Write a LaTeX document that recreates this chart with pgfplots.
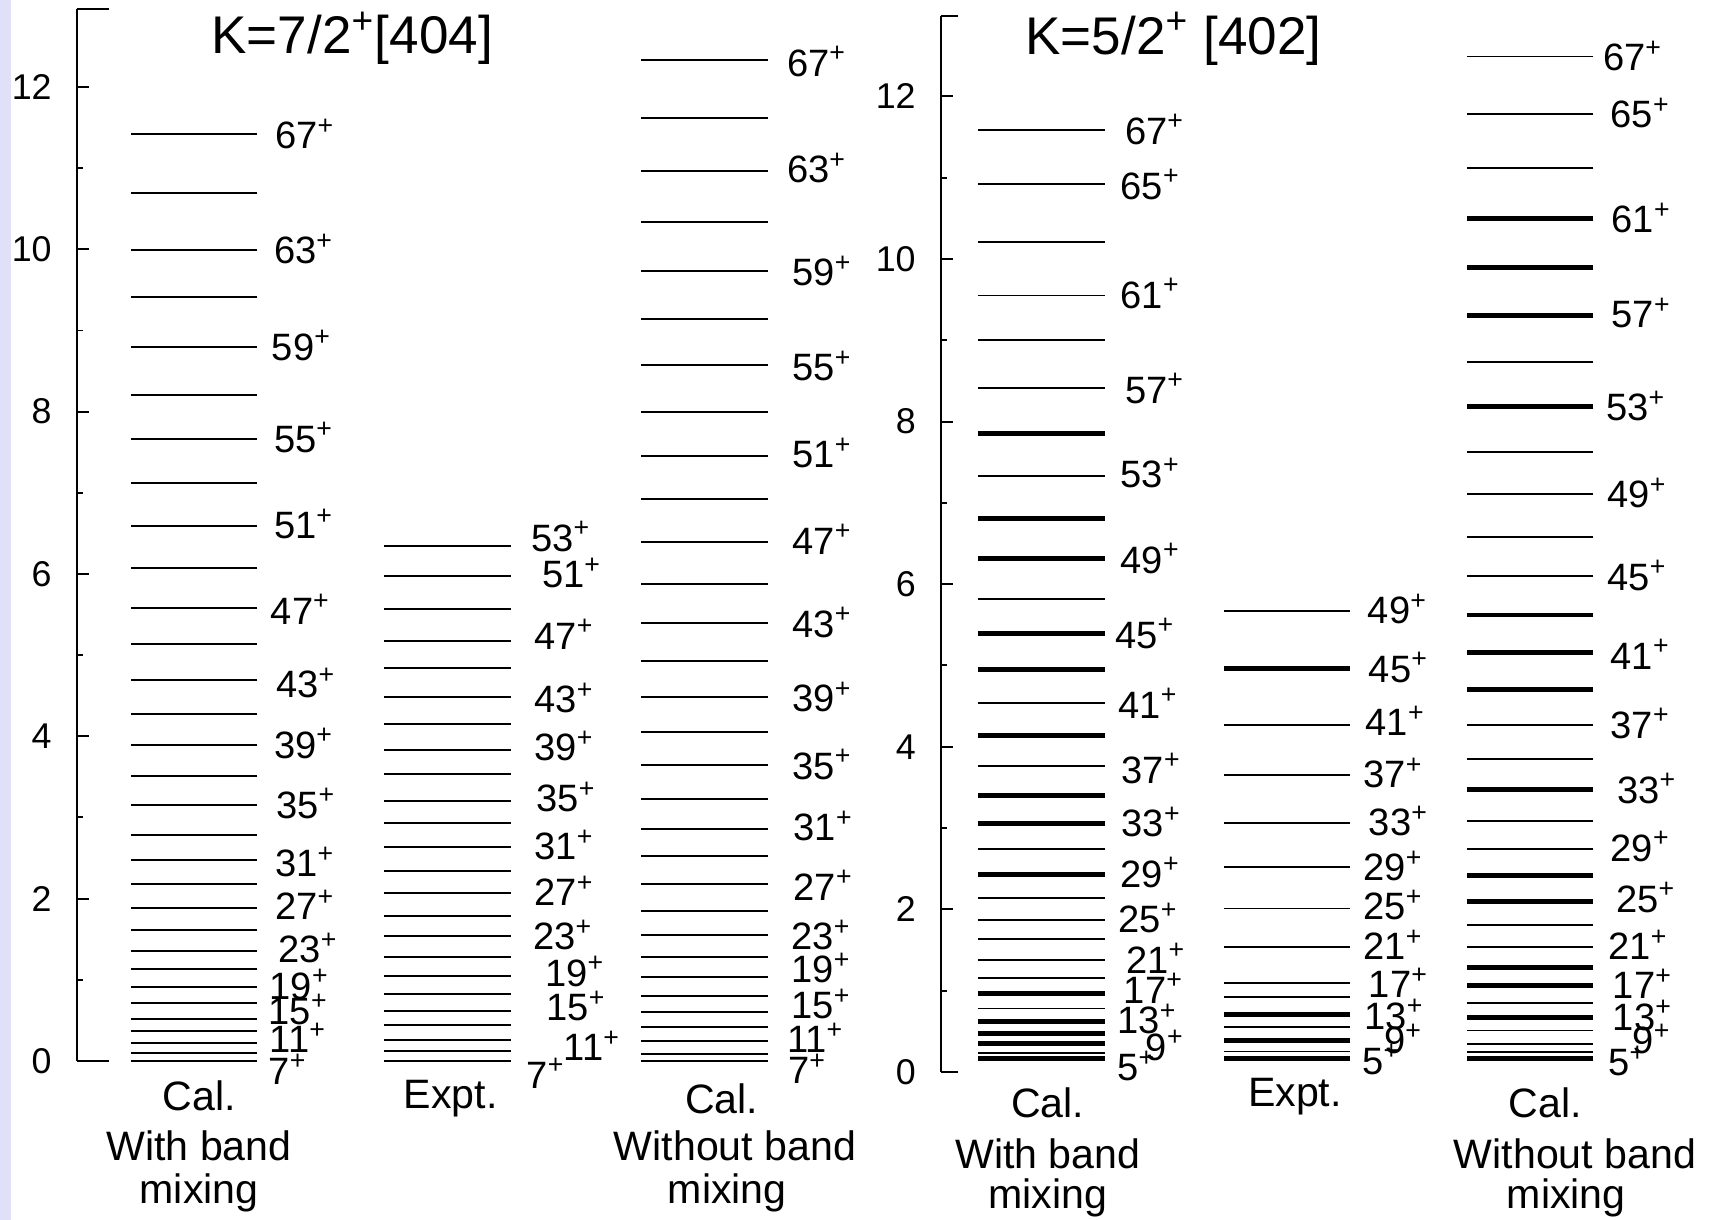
\documentclass[border=0pt]{standalone}
\usepackage{fontspec}
\setmainfont{Liberation Sans}
\usepackage{pgfplots}
\pgfplotsset{compat=1.18}
\usepackage{pgfplotstable}
\definecolor{lav}{RGB}{224,224,248}

% ---------- K=7/2+[404] ----------
\pgfplotstableread{
I E
7 0.00
9 0.10
11 0.22
13 0.37
15 0.52
17 0.71
19 0.91
21 1.13
23 1.36
25 1.61
27 1.88
29 2.18
31 2.47
33 2.79
35 3.15
37 3.51
39 3.89
41 4.27
43 4.69
45 5.14
47 5.58
49 6.07
51 6.59
53 7.12
55 7.66
57 8.21
59 8.80
61 9.41
63 9.99
65 10.70
67 11.42
}\LA
\pgfplotstableread{
I E
7 0.00
9 0.12
11 0.26
13 0.44
15 0.61
17 0.83
19 1.05
21 1.28
23 1.54
25 1.79
27 2.07
29 2.34
31 2.64
33 2.93
35 3.20
37 3.53
39 3.83
41 4.15
43 4.49
45 4.84
47 5.18
49 5.57
51 5.98
53 6.34
}\LB
\pgfplotstableread{
I E
7 0.00
9 0.09
11 0.25
13 0.42
15 0.60
17 0.80
19 1.04
21 1.28
23 1.55
25 1.85
27 2.18
29 2.52
31 2.86
33 3.23
35 3.65
37 4.05
39 4.49
41 4.93
43 5.40
45 5.88
47 6.40
49 6.92
51 7.45
53 8.00
55 8.57
57 9.14
59 9.73
61 10.34
63 10.97
65 11.62
67 12.33
}\LC
\pgfplotstableread{
x y s
251 11.41 67
250 9.99 63
248 8.80 59
250 7.67 55
250 6.60 51
247 5.55 47
252 4.64 43
250 3.90 39
252 3.16 35
251 2.44 31
251 1.91 27
254 1.38 23
246 0.93 19
245 0.62 15
246 0.27 11
245 -0.12 7
485 6.45 53
495 6.00 51
488 5.24 47
488 4.46 43
488 3.87 39
490 3.24 35
488 2.65 31
488 2.08 27
487 1.54 23
498 1.09 19
499 0.66 15
515 0.17 11
481 -0.17 7
719 12.30 67
719 10.99 63
724 9.72 59
724 8.55 55
724 7.48 51
724 6.41 47
724 5.39 43
724 4.47 39
724 3.64 35
725 2.88 31
725 2.15 27
723 1.54 23
723 1.13 19
723 0.69 15
719 0.27 11
720 -0.11 7
}\LLab

% ---------- K=5/2+[402] ----------
\pgfplotstableread{
I E
7 0.23
15 0.78
19 1.15
21 1.38
23 1.63
25 1.87
27 2.14
31 2.74
37 3.76
41 4.54
47 5.82
53 7.33
57 8.41
59 9.00
61 9.55
63 10.21
65 10.92
67 11.59
}\RAthin
\pgfplotstableread{
I E
5 0.17
9 0.35
11 0.47
13 0.62
17 0.97
29 2.43
33 3.05
35 3.40
39 4.14
43 4.95
45 5.39
49 6.31
51 6.81
55 7.85
}\RAthick
\pgfplotstableread{
I E
7 0.25
11 0.55
15 0.92
17 1.09
21 1.54
25 2.01
29 2.52
33 3.06
37 3.65
41 4.27
49 5.67
}\RBthin
\pgfplotstableread{
I E
5 0.17
9 0.39
13 0.71
45 4.96
}\RBthick
\pgfplotstableread{
I E
7 0.24
9 0.34
11 0.51
15 0.85
21 1.54
23 1.81
29 2.74
31 3.09
35 3.85
37 4.27
45 6.10
47 6.58
49 7.11
51 7.63
55 8.73
63 11.12
65 11.78
67 12.49
}\RCthin
\pgfplotstableread{
I E
5 0.17
13 0.67
17 1.06
19 1.28
25 2.10
27 2.42
33 3.47
39 4.70
41 5.16
43 5.62
53 8.19
57 9.31
59 9.90
61 10.50
}\RCthick
\pgfplotstableread{
x y s
1028 11.58 67
1024 10.90 65
1024 9.56 61
1028 8.39 57
1024 7.35 53
1024 6.30 49
1019 5.38 45
1022 4.52 41
1025 3.72 37
1025 3.06 33
1024 2.44 29
1022 1.88 25
1029 1.38 21
1027 1.01 17
1021 0.64 13
1047 0.31 9
1021 0.06 5
1250 5.68 49
1251 4.96 45
1248 4.30 41
1246 3.66 37
1251 3.07 33
1246 2.52 29
1246 2.04 25
1246 1.55 21
1251 1.08 17
1247 0.69 13
1265 0.39 9
1245 0.14 5
1465 12.48 67
1472 11.78 65
1473 10.49 61
1473 9.32 57
1468 8.18 53
1469 7.11 49
1469 6.09 45
1472 5.12 41
1472 4.27 37
1478 3.47 33
1472 2.76 29
1477 2.13 25
1470 1.55 21
1474 1.07 17
1474 0.68 13
1492 0.39 9
1470 0.12 5
}\RLab

\pgfplotsset{
  panel/.style={
    scale only axis, clip=false,
    axis y line*=left, axis x line=none,
    ytick={0,2,...,12}, minor ytick={1,3,...,11},
    tick align=inside, major tick length=3.8pt, minor tick length=1.8pt,
    tick style={black, line width=0.6pt},
    axis line style={black, line width=0.6pt},
    yticklabel style={font=\fontsize{10.8}{11}\selectfont, xshift=-4pt},
    /pgf/number format/assume math mode=true,
  },
  lvl/.style={only marks, mark=-, mark size=19.1pt, mark options={line width=#1, black}},
  lab/.style={draw=none,
    nodes near coords={\pgfplotspointmeta\textsuperscript{+}},
    point meta=explicit symbolic,
    nodes near coords style={anchor=base west, inner sep=0pt, yshift=-4.1pt,
      font=\fontsize{11.5}{12}\selectfont, text=black}},
}

\begin{document}
\begin{tikzpicture}
\path[use as bounding box, fill=white] (0,0) rectangle (517.44pt,-367.95pt);
\fill[lav] (0,0) rectangle (3.3pt,-367.95pt);

% left panel
\begin{axis}[panel, at={(23.1pt,-320.1pt)}, anchor=south west,
  width=240.9pt, height=317.46pt, xmin=70, xmax=800, ymin=0, ymax=12.964]
\addplot[lvl=0.6pt] table[x expr=177.5, y=E] {\LA};
\addplot[lvl=0.6pt] table[x expr=409, y=E] {\LB};
\addplot[lvl=0.6pt] table[x expr=644, y=E] {\LC};
\addplot[lab] table[x=x, y=y, meta=s] {\LLab};
\draw[line width=0.6pt] (axis cs:70,0) -- (axis cs:100,0);
\draw[line width=0.6pt] (axis cs:70,12.964) -- (axis cs:100,12.964);
\node[font=\fontsize{16}{18}\selectfont] at (axis cs:322,12.60) {K=7/2\textsuperscript{+}[404]};
\begin{scope}[every node/.style={font=\fontsize{12.4}{14}\selectfont}]
\node at (axis cs:182,-0.43) {Cal.};
\node at (axis cs:182,-1.05) {With band};
\node at (axis cs:182,-1.62) {mixing};
\node at (axis cs:412,-0.47) {Expt.};
\node at (axis cs:660,-0.47) {Cal.};
\node at (axis cs:672,-1.05) {Without band};
\node at (axis cs:665,-1.62) {mixing};
\end{scope}
\end{axis}

% right panel
\begin{axis}[panel, at={(283.8pt,-323.4pt)}, anchor=south west,
  width=233.64pt, height=318.45pt, xmin=860, xmax=1568, ymin=0, ymax=12.983]
\addplot[lvl=0.55pt] table[x expr=952.5, y=E] {\RAthin};
\addplot[lvl=1.5pt] table[x expr=952.5, y=E] {\RAthick};
\addplot[lvl=0.55pt] table[x expr=1176.5, y=E] {\RBthin};
\addplot[lvl=1.5pt] table[x expr=1176.5, y=E] {\RBthick};
\addplot[lvl=0.55pt] table[x expr=1399, y=E] {\RCthin};
\addplot[lvl=1.5pt] table[x expr=1399, y=E] {\RCthick};
\addplot[lab] table[x=x, y=y, meta=s] {\RLab};
\draw[line width=0.6pt] (axis cs:860,0) -- (axis cs:876,0);
\draw[line width=0.6pt] (axis cs:860,12.983) -- (axis cs:876,12.983);
\node[font=\fontsize{16}{18}\selectfont] at (axis cs:1073,12.71) {K=5/2\textsuperscript{+} [402]};
\begin{scope}[every node/.style={font=\fontsize{12.4}{14}\selectfont}]
\node at (axis cs:958,-0.38) {Cal.};
\node at (axis cs:958,-1.01) {With band};
\node at (axis cs:958,-1.55) {mixing};
\node at (axis cs:1184,-0.31) {Expt.};
\node at (axis cs:1413,-0.38) {Cal.};
\node at (axis cs:1440,-1.01) {Without band};
\node at (axis cs:1432,-1.55) {mixing};
\end{scope}
\end{axis}
\end{tikzpicture}
\end{document}
